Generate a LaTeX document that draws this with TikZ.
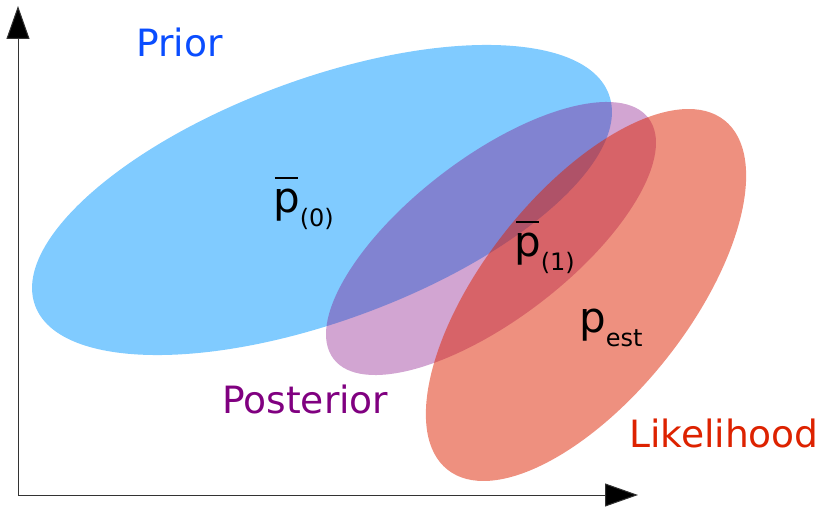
\documentclass[tikz,border=0pt]{standalone}
\usepackage{fontspec}
\setmainfont{DejaVu Sans}
\usetikzlibrary{arrows.meta}
\definecolor{priorfill}{RGB}{128,203,255}
\definecolor{postfill}{RGB}{132,10,132}
\definecolor{likefill}{RGB}{221,34,0}
\definecolor{priortext}{RGB}{10,77,255}
\definecolor{posttext}{RGB}{128,0,128}
\definecolor{liketext}{RGB}{221,34,0}
\newcommand\pbr{\rlap{\hspace{0.04em}\rule[0.79em]{0.55em}{0.05em}}p}
\newcommand\subsc[1]{\raisebox{-14pt}{\fontsize{24}{24}\selectfont #1}}
\tikzset{
  axisline/.style={draw=black!80, line width=1pt, -{Triangle[length=33pt,width=23pt,fill=black]}},
  label/.style={anchor=base west, inner sep=0pt, font=\fontsize{37.6}{44}\selectfont},
  mathlabel/.style={anchor=base west, inner sep=0pt, font=\fontsize{42}{48}\selectfont, text=black},
}
\begin{document}
\begin{tikzpicture}[x=1pt,y=-1pt]
\useasboundingbox (0,0) rectangle (825,508);
% ellipses
\fill[priorfill, rotate around={20.2:(322,200)}] (322,200) ellipse [x radius=305.7, y radius=121];
\fill[postfill, fill opacity=0.37, rotate around={37.4:(491,238.5)}] (491,238.5) ellipse [x radius=198.2, y radius=81];
\fill[likefill, fill opacity=0.5, rotate around={51.6:(586,295)}] (586,295) ellipse [x radius=222.9, y radius=102.6];
% axes
\coordinate (O) at (18,495);
\coordinate (Ytip) at (18,6);
\coordinate (Xtip) at (638,495);
\draw[axisline] (O) -- (Ytip);
\draw[axisline] (O) -- (Xtip);
% labels
\node[label, text=priortext] (prior) at (136,57) {Prior};
\node[label, text=posttext] (post) at (222,413) {Posterior};
\node[label, text=liketext] (like) at (629,447) {Likelihood};
\node[mathlabel] (p0) at (273,212) {\pbr\subsc{(0)}};
\node[mathlabel] (p1) at (514,256) {\pbr\subsc{(1)}};
\node[mathlabel] (pest) at (579,332) {p\subsc{est}};
\end{tikzpicture}
\end{document}
